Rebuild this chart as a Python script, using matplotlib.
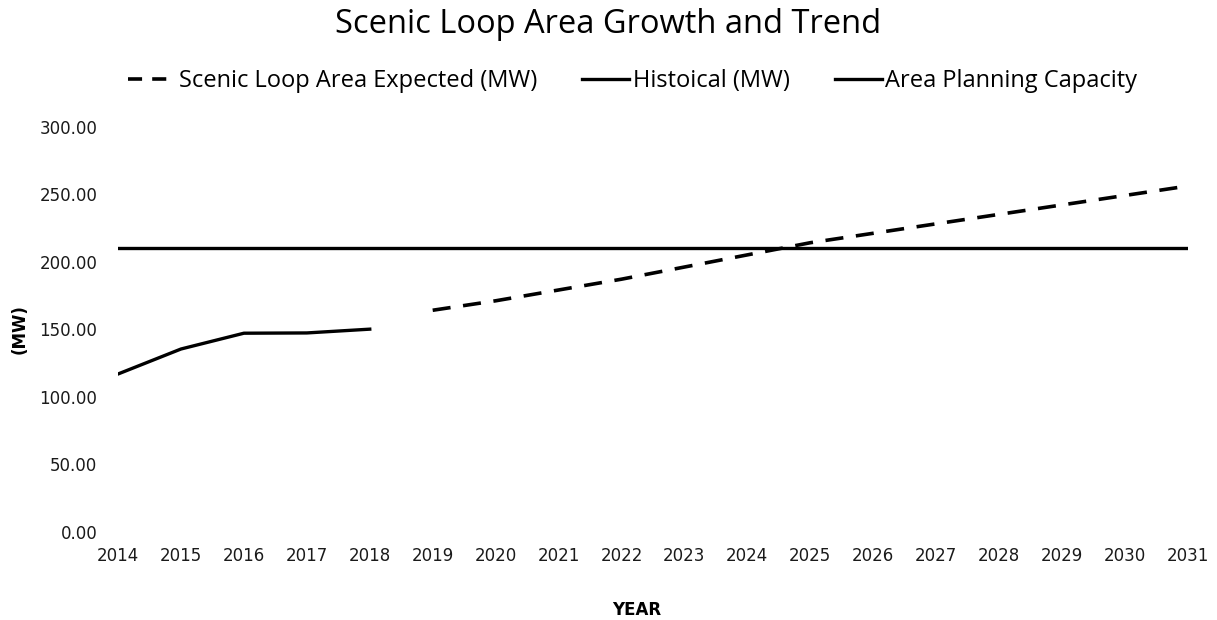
import matplotlib
matplotlib.use("Agg")
import matplotlib.pyplot as plt

# data
hist_years = [2014, 2015, 2016, 2017, 2018]
hist_mw = [116.8, 135.3, 147.0, 147.2, 150.0]

exp_years = list(range(2019, 2032))
exp_mw = [164, 171, 179, 187, 196, 205, 214, 221, 228, 235, 242, 249, 256]

cap_years = [2014, 2031]
cap_mw = [210, 210]

all_years = list(range(2014, 2032))
y_ticks = [0, 50, 100, 150, 200, 250, 300]

plt.rcParams['font.family'] = ['DejaVu Sans']

fig = plt.figure(figsize=(12.17, 6.2), dpi=100)
ax = fig.add_axes([0.097, 0.1424, 0.879, 0.6534])

ax.plot(exp_years, exp_mw, color='black', lw=2.6, dashes=(5, 3.5),
        label='Scenic Loop Area Expected (MW)')
ax.plot(hist_years, hist_mw, color='black', lw=2.4, label='Histoical (MW)')
ax.plot(cap_years, cap_mw, color='black', lw=2.4, label='Area Planning Capacity')

ax.set_xlim(2014, 2031)
ax.set_ylim(0, 300)
ax.set_xticks(all_years)
ax.set_xticklabels([str(y) for y in all_years])
ax.set_yticks(y_ticks)
ax.set_yticklabels(['{:.2f}'.format(v) for v in y_ticks])
ax.tick_params(axis='both', length=0, labelsize=12, colors='#1a1a1a')
ax.tick_params(axis='y', pad=15)
ax.tick_params(axis='x', pad=11)
for s in ax.spines.values():
    s.set_visible(False)

ax.set_xlabel('YEAR', fontsize=12, fontweight='bold')
ax.xaxis.set_label_coords(0.485, -0.172)
ax.set_ylabel('(MW)', fontsize=12, fontweight='bold', labelpad=8)

fig.suptitle('Scenic Loop Area Growth and Trend', fontsize=23.5, y=0.987,
             family=['Open Sans', 'DejaVu Sans'])

leg = fig.legend(loc='center', bbox_to_anchor=(0.52, 0.869), ncol=3, frameon=False,
                 handlelength=2.0, handletextpad=0.15, columnspacing=1.9,
                 prop={'family': ['Open Sans', 'DejaVu Sans'], 'size': 17})
leg.get_lines()[0].set_dashes((3.9, 2.8))

fig.savefig('out.png', dpi=100, facecolor='white')
